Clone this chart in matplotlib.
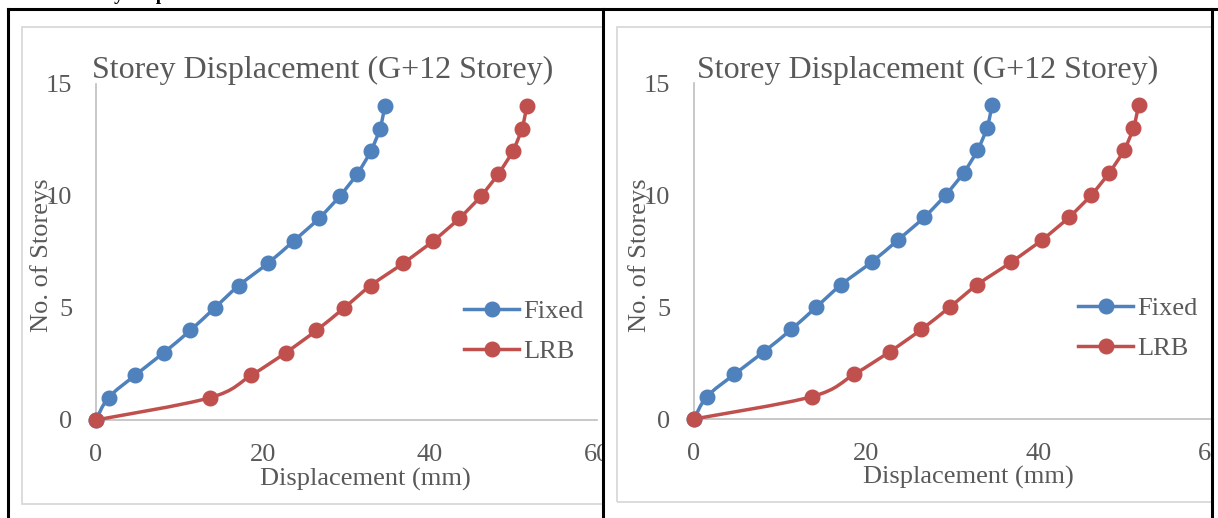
import matplotlib
matplotlib.use('Agg')
import matplotlib.pyplot as plt
from matplotlib.path import Path
from matplotlib.patches import PathPatch, Rectangle
from matplotlib.lines import Line2D
import numpy as np

# storey displacement, G+12 building (mm)
storeys = list(range(15))
fixed_disp = [0, 1.5, 4.7, 8.1, 11.3, 14.2, 17.1, 20.6, 23.7, 26.7, 29.2, 31.3, 32.9, 34.0, 34.6]
lrb_disp = [0, 13.7, 18.6, 22.7, 26.4, 29.7, 32.9, 36.8, 40.4, 43.5, 46.1, 48.2, 49.9, 51.0, 51.6]

series_names = ['Fixed', 'LRB']
series_colors = ['#4F81BD', '#C0504D']
x_ticks = [0, 20, 40, 60]
y_ticks = [0, 5, 10, 15]

TEXT = '#595959'
AXIS = '#BFBFBF'
plt.rcParams['font.family'] = ['Liberation Serif', 'DejaVu Serif']

W, H = 1218, 518
fig = plt.figure(figsize=(W / 100, H / 100), dpi=100)


def fx(px):
    return px / W


def fy(py):
    return 1 - py / H


def smooth_path(xs, ys):
    # Catmull-Rom through the points, written as cubic Bezier segments
    pts = np.column_stack([xs, ys]).astype(float)
    verts = [pts[0]]
    codes = [Path.MOVETO]
    n = len(pts)
    for i in range(n - 1):
        p0 = pts[max(i - 1, 0)]
        p1 = pts[i]
        p2 = pts[i + 1]
        p3 = pts[min(i + 2, n - 1)]
        c1 = p1 + (p2 - p0) / 6
        c2 = p2 - (p3 - p1) / 6
        verts += [c1, c2, p2]
        codes += [Path.CURVE4] * 3
    return Path(verts, codes)


def draw_panel(ax_px, title_xy, ylab_xy, xlab_xy, legend_xy):
    left, right, bottom, top = ax_px
    ax = fig.add_axes([fx(left), fy(bottom), fx(right - left), fy(top) - fy(bottom)])
    for xs, color in zip([fixed_disp, lrb_disp], series_colors):
        ax.add_patch(PathPatch(smooth_path(xs, storeys), fill=False,
                               edgecolor=color, linewidth=2.5, zorder=3,
                               clip_on=False))
        ax.plot(xs, storeys, ls='none', marker='o', markersize=10.5,
                color=color, zorder=4, clip_on=False)
    ax.set_xlim(0, 60)
    ax.set_ylim(0, 15)
    ax.set_xticks(x_ticks)
    ax.set_yticks(y_ticks)
    ax.tick_params(length=0, labelsize=19, labelcolor=TEXT)
    ax.tick_params(axis='y', pad=17)
    ax.tick_params(axis='x', pad=17)
    for s in ['top', 'right']:
        ax.spines[s].set_visible(False)
    for s in ['left', 'bottom']:
        ax.spines[s].set_color(AXIS)
        ax.spines[s].set_linewidth(1.2)
    ax.patch.set_alpha(0)

    fig.text(fx(title_xy[0]), fy(title_xy[1]), 'Storey Displacement (G+12 Storey)',
             ha='center', va='baseline', fontsize=23, color=TEXT)
    fig.text(fx(ylab_xy[0]), fy(ylab_xy[1]), 'No. of Storeys', rotation=90,
             ha='center', va='center', fontsize=19, color=TEXT)
    fig.text(fx(xlab_xy[0]), fy(xlab_xy[1]), 'Displacement (mm)',
             ha='center', va='center', fontsize=19, color=TEXT)

    handles = [Line2D([0], [0], color=c, linewidth=2.5, marker='o', markersize=10.5)
               for c in series_colors]
    ax.legend(handles, series_names, loc='upper left',
              bbox_to_anchor=(fx(legend_xy[0]), fy(legend_xy[1])),
              bbox_transform=fig.transFigure, frameon=False, fontsize=19,
              labelcolor=TEXT, handlelength=2.1, handletextpad=0.15,
              labelspacing=0.6, borderpad=0, borderaxespad=0)
    return ax


# chart-area borders
fig.add_artist(Rectangle((fx(22), fy(504)), fx(610 - 22), fy(27) - fy(504),
                         transform=fig.transFigure, fill=False,
                         edgecolor='#D9D9D9', linewidth=1.3, zorder=0))
fig.add_artist(Rectangle((fx(617), fy(502)), fx(1230 - 617), fy(27) - fy(502),
                         transform=fig.transFigure, fill=False,
                         edgecolor='#D9D9D9', linewidth=1.3, zorder=0))

draw_panel((96, 597, 420, 84), (323, 78), (42, 255), (365, 479), (464, 300))
draw_panel((694, 1211, 419, 83), (928, 78), (640, 255), (968, 477), (1078, 297))

# cut off the overflow of each chart at the table cell edges
fig.add_artist(Rectangle((fx(604), fy(518)), fx(12), fy(10) - fy(518),
                         transform=fig.transFigure, facecolor='white',
                         edgecolor='none', zorder=5))
fig.add_artist(Rectangle((fx(1213), fy(518)), fx(10), fy(10) - fy(518),
                         transform=fig.transFigure, facecolor='white',
                         edgecolor='none', zorder=5))

# table lines
for x in [8, 603, 1212]:
    fig.add_artist(Line2D([fx(x), fx(x)], [fy(9), 0], transform=fig.transFigure,
                          color='black', linewidth=2.2, zorder=6))
fig.add_artist(Line2D([fx(8), fx(1218)], [fy(9), fy(9)], transform=fig.transFigure,
                      color='black', linewidth=2.2, zorder=6))

# caption line above the table, mostly outside the frame
fig.text(fx(70), fy(0), 'Storey Displacement', fontsize=14, fontweight='bold',
         color='black', va='baseline', ha='left')

fig.savefig('out.png', dpi=100)
